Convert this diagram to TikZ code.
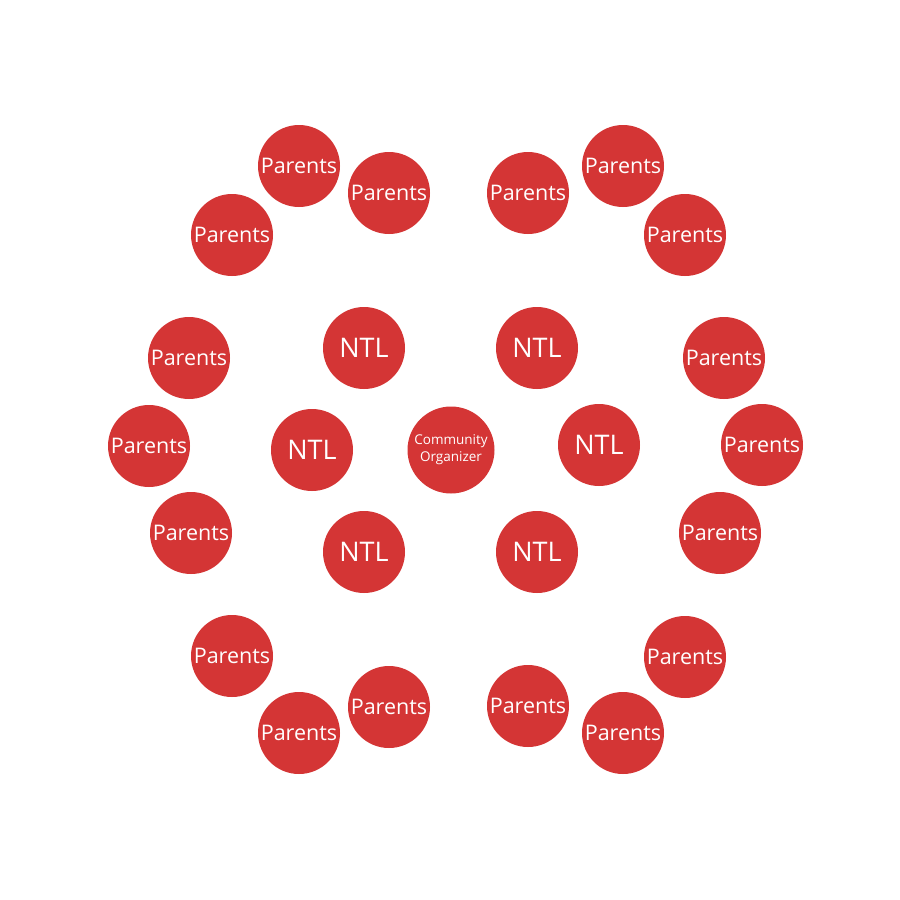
\documentclass[tikz,border=0pt]{standalone}
\usepackage{fontspec}
\setmainfont{Open Sans}
\definecolor{circred}{HTML}{D43535}
\begin{document}
\begin{tikzpicture}[x=1pt,y=-1pt,
  bub/.style={circle,fill=circred,text=white,minimum size=82pt,inner sep=0pt,align=center},
  par/.style={bub,font=\fontsize{21.5}{24}\selectfont},
  ntl/.style={bub,font=\fontsize{27}{30}\selectfont},
  co/.style={bub,minimum size=87pt,font=\fontsize{13.5}{17}\selectfont}]
\useasboundingbox (0,0) rectangle (900,900);
\fill[white] (0,0) rectangle (900,900);
\node[par] (p1) at (299,166) {Parents};
\node[par] (p2) at (389,193) {Parents};
\node[par] (p3) at (232,235) {Parents};
\node[par] (p4) at (528,193) {Parents};
\node[par] (p5) at (623,166) {Parents};
\node[par] (p6) at (685,235) {Parents};
\node[par] (p7) at (189,358) {Parents};
\node[par] (p8) at (149,446) {Parents};
\node[par] (p9) at (191,533) {Parents};
\node[par] (p10) at (724,358) {Parents};
\node[par] (p11) at (762,445) {Parents};
\node[par] (p12) at (720,533) {Parents};
\node[par] (p13) at (232,656) {Parents};
\node[par] (p14) at (389,707) {Parents};
\node[par] (p15) at (299,733) {Parents};
\node[par] (p16) at (528,706) {Parents};
\node[par] (p17) at (623,733) {Parents};
\node[par] (p18) at (685,657) {Parents};
\node[ntl] (n1) at (364,348) {NTL};
\node[ntl] (n2) at (537,348) {NTL};
\node[ntl] (n3) at (312,450) {NTL};
\node[ntl] (n4) at (599,445) {NTL};
\node[ntl] (n5) at (364,552) {NTL};
\node[ntl] (n6) at (537,552) {NTL};
\node[co] (c) at (451,450) {Community\\Organizer};
\end{tikzpicture}
\end{document}
